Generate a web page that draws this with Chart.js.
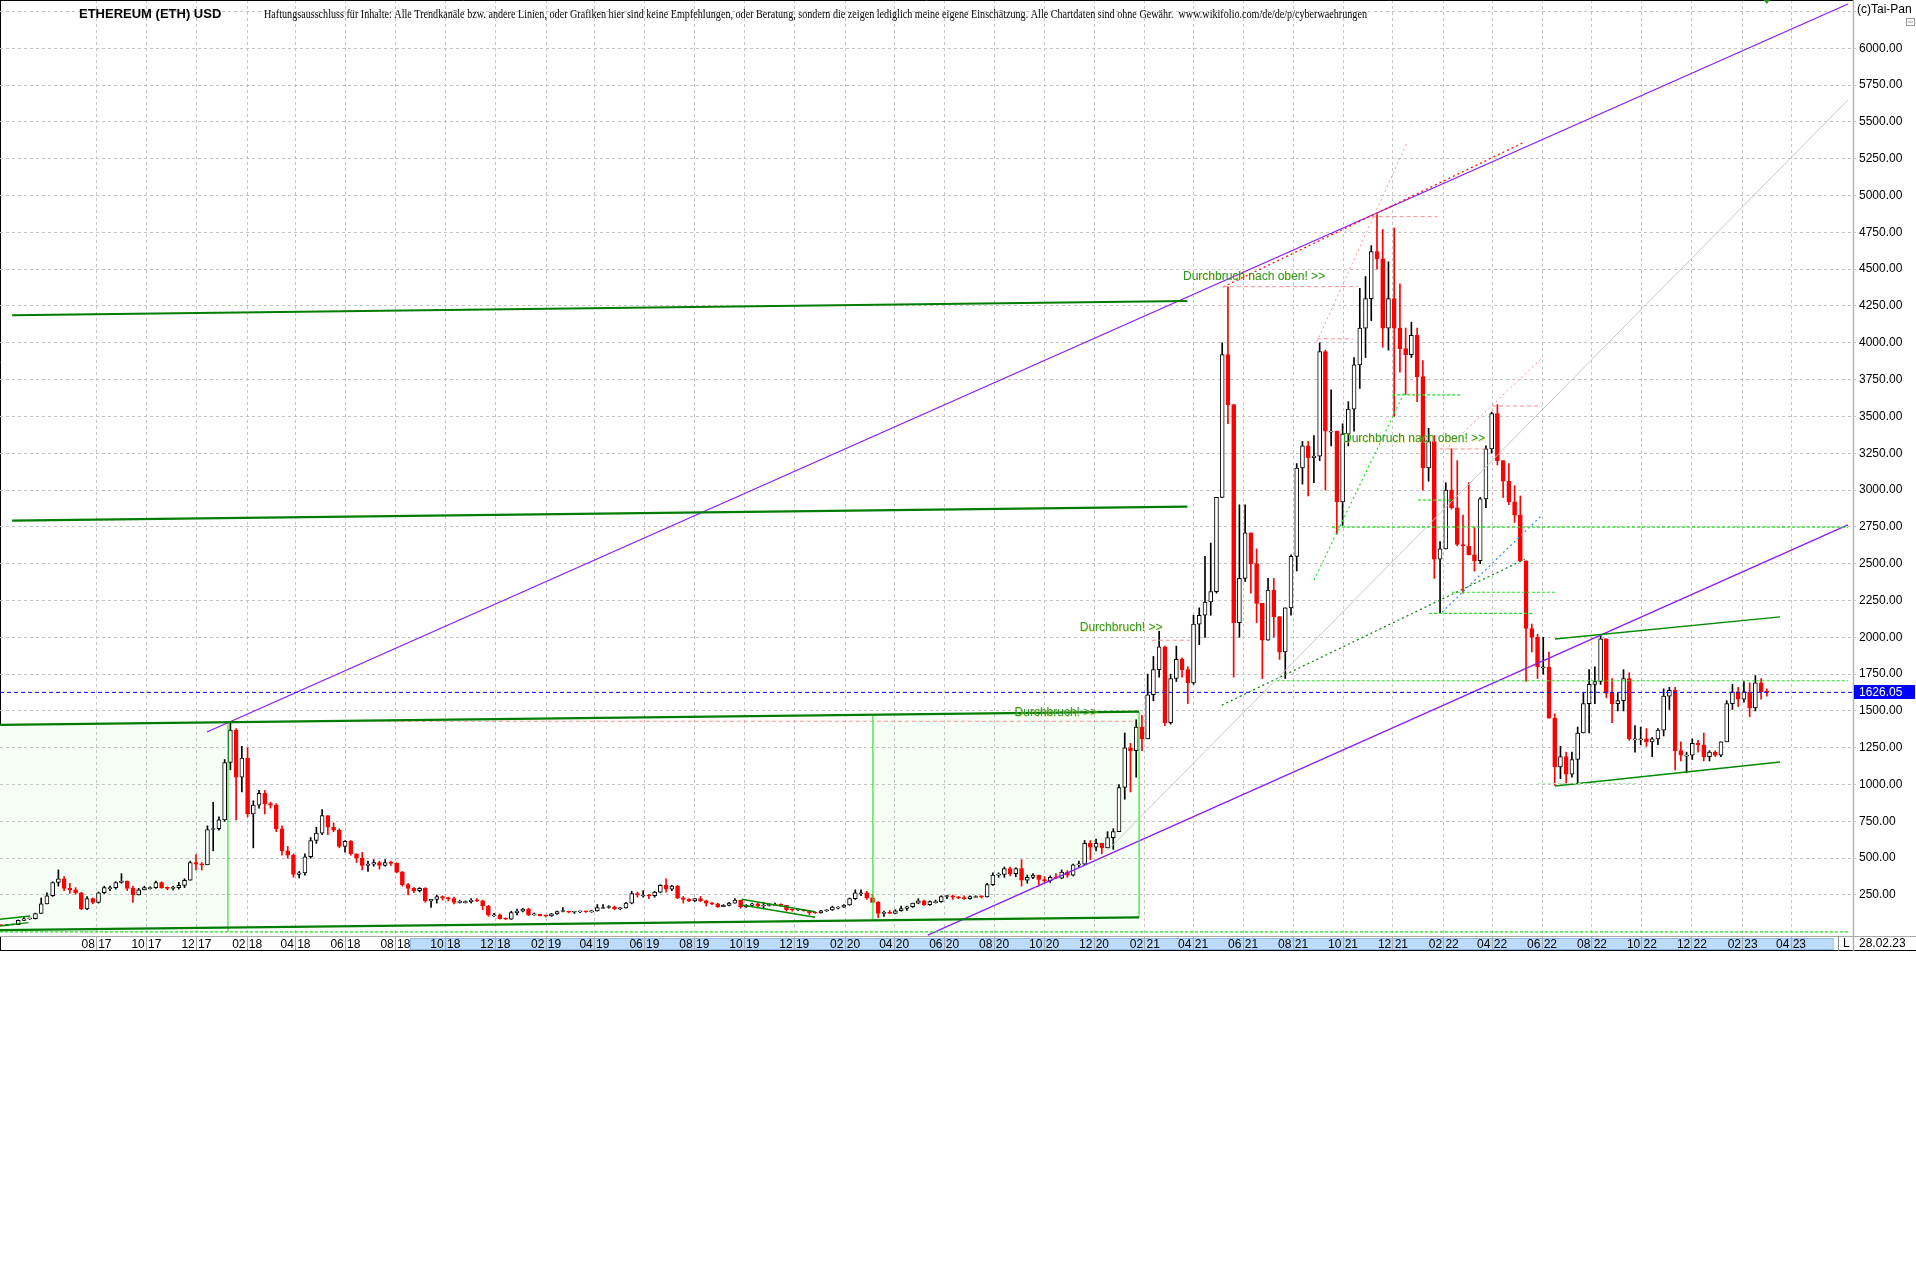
<!DOCTYPE html>
<html>
<head>
<meta charset="utf-8">
<script src="https://cdn.jsdelivr.net/npm/chart.js@4/dist/chart.umd.min.js"></script>
<style>
html,body{margin:0;padding:0;background:#fff;width:1916px;height:1286px;overflow:hidden}
#wrap{position:absolute;left:0;top:0;width:1916px;height:951px}
canvas{display:block}
</style>
</head>
<body>
<div id="wrap"><canvas id="c" width="1916" height="951"></canvas></div>
<script>
// ---------------- DATA ----------------
// Weekly candles (weeks starting Monday), first week = 2017-04-03
const firstWeek = '2017-04-03';
const opens = [
 // 2017
 44,43,48,49,78,88,90,124,190,245,335,360,295,285,265,155,225,200,265,300,300,335,345,295,250,285,300,300,335,300,295,300,315,350,470,460,455,695,700,
 // 2018
 760,1150,1370,1050,1180,800,860,940,870,860,700,550,520,390,400,510,620,670,790,710,690,580,615,530,500,450,460,470,450,470,465,405,320,295,280,295,210,220,240,230,225,200,205,205,215,210,175,115,115,90,85,130,
 // 2019
 140,155,115,118,110,108,122,138,140,133,135,136,135,141,165,165,170,155,162,195,260,250,250,245,270,315,290,310,230,220,210,225,210,195,190,170,180,195,215,170,180,190,175,180,185,185,180,150,148,150,141,130,
 // 2020
 128,143,148,168,168,182,225,265,265,230,200,125,130,125,143,158,170,195,210,185,205,205,240,245,235,230,225,240,240,237,320,385,390,430,395,430,350,370,385,355,345,370,365,405,385,455,460,600,575,600,570,640,680,
 // 2021
 980,1250,1230,1390,1310,1610,1780,1935,1420,1720,1850,1780,1690,2090,2150,2240,2310,2950,3920,3580,2100,2400,2710,2500,2230,1980,2320,2140,1900,2200,2550,3150,3300,3220,3230,3940,3400,3400,2920,3380,3550,3850,4100,4300,4620,4570,4100,4300,4100,3960,3920,4050,
 // 2022
 3770,3150,3330,2530,2600,3000,2880,2630,2620,2560,2520,2940,3280,3520,3200,3060,2920,2830,2520,2060,2000,1800,1800,1450,1120,1190,1070,1170,1350,1550,1680,1700,1990,1620,1550,1570,1720,1310,1310,1310,1290,1310,1370,1600,1640,1230,1200,1200,1280,1270,1190,1220,
 // 2023
 1200,1290,1550,1630,1580,1630,1520,1690,1630
];
const highs = [
 46,50,50,80,97,92,127,230,265,340,420,375,330,300,268,240,230,270,310,310,340,395,345,310,295,310,305,345,340,305,310,335,360,480,525,470,720,880,780,
 1170,1420,1380,1260,1250,890,960,960,880,870,720,580,530,410,530,640,710,830,790,740,700,620,620,530,540,480,490,480,490,480,470,410,330,300,300,300,220,250,245,235,235,215,210,225,225,215,180,125,120,95,140,155,
 160,160,128,120,112,125,140,165,140,140,140,141,145,185,185,178,175,165,200,275,270,280,255,275,320,360,315,315,240,225,225,240,215,200,195,185,200,225,215,185,195,195,200,190,195,190,180,155,152,152,145,135,
 145,150,175,172,185,230,285,285,275,255,205,140,145,150,175,175,195,225,215,210,215,245,250,250,240,245,245,245,245,330,400,400,440,440,435,490,385,395,385,375,380,395,420,415,460,480,620,620,630,600,680,700,1000,
 1350,1280,1440,1470,1750,1870,2040,1940,1750,1940,1860,1800,2150,2200,2550,2640,2950,4000,4380,3580,2900,2900,2710,2600,2230,2400,2400,2140,2200,2560,3180,3330,3330,3370,4000,3950,3680,3400,3450,3600,3900,4370,4450,4660,4870,4770,4550,4780,4400,4100,4140,4100,
 3880,3420,3370,2650,3050,3280,3200,2830,3050,2750,2950,3300,3530,3580,3200,3180,3030,2960,2520,2090,2020,2000,1900,1480,1260,1220,1220,1390,1620,1780,1800,2020,1990,1720,1620,1780,1760,1400,1390,1380,1320,1380,1650,1660,1660,1290,1220,1310,1300,1350,1230,1230,
 1290,1570,1680,1660,1700,1690,1740,1720,1650
];
const lows = [
 42,42,47,49,75,84,87,124,190,240,310,280,260,255,150,150,190,195,260,280,290,330,280,200,250,285,290,295,295,285,285,290,300,350,420,420,455,550,690,
 750,1100,760,950,780,570,840,800,840,680,520,500,370,365,385,500,600,660,660,680,570,540,520,470,420,410,445,425,445,450,400,310,250,265,270,200,165,195,215,210,190,195,195,195,205,150,105,105,85,83,84,115,
 135,110,112,108,100,105,118,135,128,125,130,131,132,140,158,160,150,150,160,190,235,235,225,235,265,270,280,225,195,205,205,205,175,185,165,170,175,195,160,165,175,170,160,175,182,175,140,140,145,140,116,125,
 126,138,145,155,165,180,220,245,220,198,95,105,125,125,140,145,165,190,180,180,195,200,225,220,225,220,222,235,230,235,315,370,370,380,375,310,330,360,310,330,335,360,360,370,380,440,455,490,550,530,570,560,680,
 900,950,1050,1230,1310,1570,1730,1400,1410,1700,1730,1550,1680,1950,2000,2150,2300,2950,3450,1730,2000,2380,2300,2100,1720,1980,2000,1850,1720,2150,2450,3040,2960,3050,3200,3000,3300,2700,2760,3300,3400,3690,3900,4150,4500,3970,3950,3500,3800,3650,3900,3600,
 3000,3060,2400,2160,2600,2870,2620,2300,2560,2450,2500,2880,3250,3170,2950,2900,2780,2520,1700,1900,1720,1750,1450,995,1040,1010,1050,1010,1350,1350,1550,1680,1590,1420,1500,1500,1300,1220,1270,1260,1190,1270,1330,1510,1100,1160,1080,1170,1220,1160,1160,1190,
 1190,1290,1510,1530,1560,1460,1500,1580,1600
];
const closes = [
 43,48,49,78,88,90,124,190,245,335,360,295,285,265,155,225,200,265,300,300,335,345,295,250,285,300,300,335,300,295,300,315,350,470,460,455,695,700,760,
 1150,1370,1050,1180,800,860,940,870,860,700,550,520,390,400,510,620,670,790,710,690,580,615,530,500,450,460,470,450,470,465,405,320,295,280,295,210,220,240,230,225,200,205,205,215,210,175,115,115,90,85,130,140,
 155,115,118,110,108,122,138,140,133,135,136,135,141,165,165,170,155,162,195,260,250,250,245,270,315,290,310,230,220,210,225,210,195,190,170,180,195,215,170,180,190,175,180,185,185,180,150,148,150,141,130,128,
 143,148,168,168,182,225,265,265,230,200,125,130,125,143,158,170,195,210,185,205,205,240,245,235,230,225,240,240,237,320,385,390,430,395,430,350,370,385,355,345,370,365,405,385,455,460,600,575,600,570,640,680,980,
 1250,1230,1390,1310,1610,1780,1935,1420,1720,1850,1780,1690,2090,2150,2240,2310,2950,3920,3580,2100,2400,2710,2500,2230,1980,2320,2140,1900,2200,2550,3150,3300,3220,3230,3940,3400,3400,2920,3380,3550,3850,4100,4300,4620,4570,4100,4300,4100,3960,3920,4050,3770,
 3150,3330,2530,2600,3000,2880,2630,2620,2560,2520,2940,3280,3520,3200,3060,2920,2830,2520,2060,2000,1800,1800,1450,1120,1190,1070,1170,1350,1550,1680,1700,1990,1620,1550,1570,1720,1310,1310,1310,1290,1310,1370,1600,1640,1230,1200,1200,1280,1270,1190,1220,1200,
 1290,1550,1630,1580,1630,1520,1690,1630,1626.05
];
const lastPrice = 1626.05;
const lastDate = '28.02.23';

// date-axis tick labels (month|year), every two months
const xTickLabels = ['08 17','10 17','12 17','02 18','04 18','06 18','08 18','10 18','12 18','02 19','04 19','06 19','08 19','10 19','12 19',
 '02 20','04 20','06 20','08 20','10 20','12 20','02 21','04 21','06 21','08 21','10 21','12 21','02 22','04 22','06 22','08 22','10 22','12 22','02 23','04 23'];
const yTickValues = [250,500,750,1000,1250,1500,1750,2000,2250,2500,2750,3000,3250,3500,3750,4000,4250,4500,4750,5000,5250,5500,5750,6000,6250];

// Drawn trend lines: [day1, value1, day2, value2], days counted from 2017-08-01
const purpleChannel = [[134.9,1357,2138.5,6301],[1015,-22,2138.5,2763]];
const grayLine = [[1235,556,2138.5,5649]];
const thickGreen = [[-103,4187,1332,4284],[-103,2793,1332,2887],[-117.8,1405,1273,1495],[-117.8,12,1273,98]];
const thinGreen = [[1780.8,1988,2055.6,2139],[1780.8,990,2055.6,1153],[787.8,221,877.3,136.5],[787.8,182,877.3,98.5],[-117.8,85,-81,107],[-117.8,39,-83,62]];
const limeVertical = [[160.5,0,160.5,1423],[948,78,948,1474],[1273,98,1273,1495]];
const limeDashed = [[-117.8,0,2138.5,0],[1508.5,2748,2138.5,2748],[1441,1705,2138.5,1705],[1582,3646,1667,3646],[1613.5,2932,1656,2932],[1655,2306,1781,2306],[1627,2163,1754,2163]];
const limeDotted = [[1486.6,2389,1597.8,3673]];
const darkGreenDotted = [[1374,1539,1744,2530]];
const blueDotted = [[1643,2172,1765,2830]];
const redDotted = [[1375.6,4379,1744,5364]];
const pinkDotted = [[1490,4006,1600,5357],[1646.5,3272,1765,3897]];
const pinkDashed = [[1375.6,4381,1540,4381],[1490,4027,1534,4027],[1557,4857,1637,4857],[1704,3571,1765,3571],[1640,3279,1700,3279],[1288.6,1980,1335,1980],[346,1430,1265,1430]];
const faintGreen = [[1760,1007,1881,1007]];
const shadedBoxes = [[-117.8,160.5],[948,1273]];   // between thickGreen[2] (top) and thickGreen[3] (bottom)
const notes = [
  ['Durchbruch nach oben! >>',1326.6,4449],
  ['Durchbruch nach oben! >>',1522,3347],
  ['Durchbruch! >>',1200.6,2063],
  ['Durchbruch! >>',1121,1486]
];
const scrollRange = [383,2120];
const titleText = 'ETHEREUM (ETH) USD';
const disclaimer = 'Haftungsausschluss für Inhalte: Alle Trendkanäle bzw. andere Linien, oder Grafiken hier sind keine Empfehlungen, oder Beratung, sondern die zeigen lediglich meine eigene Einschätzung. Alle Chartdaten sind ohne Gewähr.  www.wikifolio.com/de/de/p/cyberwaehrungen';

// ---------------- BUILD ----------------
const DAY = 864e5, ORIGIN = Date.UTC(2017,7,1);
const dayOfISO = s => (Date.parse(s + 'T00:00:00Z') - ORIGIN) / DAY;
const w0 = dayOfISO(firstWeek);
const xs = closes.map((_, i) => w0 + 7 * i + 3.5);
const xTickDays = xTickLabels.map(l => (Date.UTC(2000 + +l.slice(3), +l.slice(0,2) - 1, 1) - ORIGIN) / DAY);
const X_MIN = -117.8, X_MAX = 2144.7, Y_MIN = -28.5, Y_MAX = 6328;

const up = closes.map((c, i) => c >= opens[i]);
const FONT = '"Liberation Sans", Arial, sans-serif';
Chart.defaults.font.family = FONT;
Chart.defaults.font.size = 12;
Chart.defaults.color = '#000';

const styles = {
  purple:{c:'#8b1cf5',w:1.3,d:[]}, gray:{c:'#c8c8c8',w:1,d:[]}, thick:{c:'#007c00',w:2.2,d:[]},
  thin:{c:'#008a00',w:1.4,d:[]}, limeV:{c:'#2ee62e',w:1.2,d:[]}, limeDash:{c:'#1fe41f',w:1.2,d:[3,2]},
  limeDot:{c:'#1fe41f',w:1.2,d:[2,3]}, dgDot:{c:'#008000',w:1.2,d:[2,3]}, blueDot:{c:'#2a8cff',w:1.2,d:[2,3]},
  redDot:{c:'#ff0000',w:1.2,d:[2,3]}, pinkDot:{c:'#ff8c8c',w:1,d:[2,3]}, pinkDash:{c:'#ff8c8c',w:1,d:[4,3]},
  faint:{c:'#b8e8b8',w:1,d:[3,2]}, price:{c:'#0000ff',w:1,d:[4,3]}
};
const groups = [
  [thickGreen,'thick'],[limeVertical,'limeV'],[limeDashed,'limeDash'],[faintGreen,'faint'],[grayLine,'gray'],
  [pinkDashed,'pinkDash'],[pinkDotted,'pinkDot'],[limeDotted,'limeDot'],[darkGreenDotted,'dgDot'],[blueDotted,'blueDot'],
  [thinGreen,'thin'],[[[X_MIN,lastPrice,X_MAX,lastPrice]],'price'],[redDotted,'redDot'],[purpleChannel,'purple']
];
const lineSets = [];
groups.forEach(([segs, key]) => segs.forEach(s => {
  const st = styles[key];
  lineSets.push({type:'line', data:[{x:s[0],y:s[1]},{x:s[2],y:s[3]}], borderColor:st.c, borderWidth:st.w,
    borderDash:st.d, pointRadius:0, pointHoverRadius:0, fill:false, tension:0, order:0});
}));

const at = (seg, d) => seg[1] + (seg[3] - seg[1]) * (d - seg[0]) / (seg[2] - seg[0]);

const decor = {
  id:'decor',
  beforeDraw(chart) {
    const {ctx, chartArea:a, scales:{x, y}} = chart;
    ctx.save();
    const s1 = x.getPixelForValue(scrollRange[0]), s2 = x.getPixelForValue(scrollRange[1]);
    ctx.fillStyle = '#bddcfb'; ctx.fillRect(s1, a.bottom + 2, s2 - s1, 12);
    ctx.strokeStyle = '#8db9e8'; ctx.lineWidth = 1; ctx.strokeRect(Math.round(s1) + .5, a.bottom + 2.5, s2 - s1, 11);
    const top = thickGreen[2];
    ctx.fillStyle = '#f5fff5';
    for (const [d1, d2] of shadedBoxes) {
      ctx.beginPath();
      ctx.moveTo(x.getPixelForValue(d1), y.getPixelForValue(at(top, d1)));
      ctx.lineTo(x.getPixelForValue(d2), y.getPixelForValue(at(top, d2)));
      ctx.lineTo(x.getPixelForValue(d2), y.getPixelForValue(0));
      ctx.lineTo(x.getPixelForValue(d1), y.getPixelForValue(0));
      ctx.closePath(); ctx.fill();
    }
    ctx.strokeStyle = '#000'; ctx.beginPath(); ctx.moveTo(.5, 0); ctx.lineTo(.5, y.getPixelForValue(at(top, X_MIN)));
    ctx.moveTo(.5, a.bottom); ctx.lineTo(.5, chart.height); ctx.stroke();
    ctx.restore();
  },
  afterDatasetsDraw(chart) {
    const {ctx, scales:{x, y}} = chart;
    ctx.save();
    ctx.font = '12px ' + FONT; ctx.textBaseline = 'middle'; ctx.textAlign = 'left';
    for (const [t, d, v] of notes) {
      ctx.fillStyle = 'rgba(220,220,60,0.55)';
      ctx.fillText(t, x.getPixelForValue(d) + 0.6, y.getPixelForValue(v) + 0.4);
      ctx.fillStyle = '#2f962f';
      ctx.fillText(t, x.getPixelForValue(d), y.getPixelForValue(v));
    }
    ctx.restore();
  },
  afterDraw(chart) {
    const {ctx, chartArea:a, scales:{x, y}} = chart;
    const W = chart.width, H = chart.height;
    ctx.save();
    ctx.lineWidth = 1;
    ctx.strokeStyle = '#000';
    ctx.beginPath(); ctx.moveTo(0, .5); ctx.lineTo(a.right, .5); ctx.stroke();
    ctx.beginPath(); ctx.moveTo(0, H - .5); ctx.lineTo(W, H - .5); ctx.stroke();
    ctx.strokeStyle = '#a8a8a8';
    ctx.beginPath(); ctx.moveTo(0, a.bottom + .5); ctx.lineTo(W, a.bottom + .5); ctx.stroke();
    ctx.strokeStyle = '#b4b4b4'; ctx.lineWidth = 1.5;
    ctx.beginPath(); ctx.moveTo(a.right + .5, 0); ctx.lineTo(a.right + .5, H); ctx.stroke();
    ctx.lineWidth = 1; ctx.strokeStyle = '#8c8c8c';
    ctx.beginPath(); ctx.moveTo(a.right - 14.5, a.bottom); ctx.lineTo(a.right - 14.5, H); ctx.stroke();
    ctx.font = '12px ' + FONT; ctx.textBaseline = 'middle'; ctx.textAlign = 'left'; ctx.fillStyle = '#000';
    ctx.fillText('L', a.right - 10, a.bottom + 8);
    ctx.fillText(lastDate, a.right + 6, a.bottom + 8);
    ctx.fillText('(c)Tai-Pan', a.right + 4, 10);
    ctx.strokeStyle = '#9a9a9a'; ctx.strokeRect(W - 9.5, 18.5, 8, 7);
    ctx.beginPath(); ctx.moveTo(W - 8, 22); ctx.lineTo(W - 3, 22); ctx.stroke();
    const yp = y.getPixelForValue(lastPrice);
    ctx.fillStyle = '#0000ff'; ctx.fillRect(a.right + 1, Math.round(yp) - 7, W - a.right - 2, 14);
    ctx.fillStyle = '#fff'; ctx.fillText(lastPrice.toFixed(2), a.right + 6, yp);
    const xl = x.getPixelForValue(xs[xs.length - 1]);
    ctx.fillStyle = '#1a9a1a'; ctx.beginPath(); ctx.moveTo(xl - 3, 0); ctx.lineTo(xl + 3, 0); ctx.lineTo(xl, 4); ctx.fill();
    ctx.fillStyle = '#000';
    ctx.font = 'bold 13px ' + FONT; ctx.fillText(titleText, 79, 14);
    ctx.font = '12px "Liberation Serif", "Times New Roman", serif';
    ctx.fillText(disclaimer, 264, 15, 1103);
    ctx.restore();
  }
};

new Chart(document.getElementById('c'), {
  type:'bar',
  data:{
    datasets:[
      ...lineSets,
      {label:'body', data:xs.map((v, i) => ({x:v, y:[opens[i], closes[i]]})),
        backgroundColor:up.map(u => u ? '#ffffff' : '#ff0000'), borderColor:up.map(u => u ? '#000000' : '#ff0000'),
        borderWidth:1, borderSkipped:false, barThickness:4, minBarLength:1, grouped:false, order:1},
      {label:'wick', data:xs.map((v, i) => ({x:v, y:[lows[i], highs[i]]})),
        backgroundColor:up.map(u => u ? '#000000' : '#ff0000'), borderWidth:0, barThickness:1, grouped:false, order:2}
    ]
  },
  options:{
    responsive:false, animation:false, devicePixelRatio:1,
    layout:{padding:0},
    plugins:{legend:{display:false}, tooltip:{enabled:false}, title:{display:false}},
    events:[],
    scales:{
      x:{type:'linear', position:'bottom', min:X_MIN, max:X_MAX, offset:false,
        grid:{offset:false, color:'#c4c4c4', lineWidth:1, tickLength:15, tickColor:'#a8a8a8', tickWidth:1, tickBorderDash:[]},
        border:{display:false, dash:[3,3]},
        ticks:{autoSkip:false, maxRotation:0, minRotation:0, padding:-14, color:'#000', font:{size:12},
          callback:(v, i) => xTickLabels[i] ?? ''},
        afterBuildTicks:s => { s.ticks = xTickDays.map(v => ({value:v})); },
        afterFit:s => { s.height = 15; s.paddingLeft = 0; s.paddingRight = 0; }
      },
      y:{type:'linear', position:'right', min:Y_MIN, max:Y_MAX,
        grid:{color:'#c4c4c4', lineWidth:1, tickLength:5, tickColor:'#c4c4c4', tickBorderDash:[3,3]},
        border:{display:false, dash:[3,3]},
        ticks:{autoSkip:false, padding:1, color:'#000', font:{size:12},
          callback:v => v >= 6250 ? '' : Number(v).toFixed(2)},
        afterBuildTicks:s => { s.ticks = yTickValues.map(v => ({value:v})); },
        afterFit:s => { s.width = 63; s.paddingTop = 0; s.paddingBottom = 0; }
      }
    }
  },
  plugins:[decor]
});
</script>
</body>
</html>
